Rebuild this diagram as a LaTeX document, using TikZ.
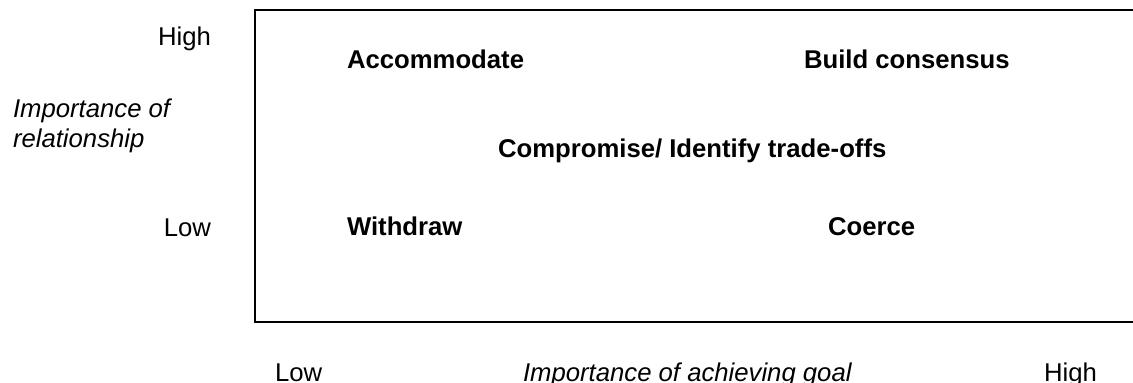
\documentclass[tikz,border=0pt]{standalone}
\usepackage{fontspec}
\setmainfont{Liberation Sans}
\tikzset{
  lbl/.style={inner sep=0pt, outer sep=0pt, font=\fontsize{25.7pt}{30pt}\selectfont},
  bold/.style={lbl, font=\fontsize{25.7pt}{30pt}\selectfont\bfseries},
  ital/.style={lbl, font=\fontsize{25.7pt}{30pt}\selectfont\itshape},
  frame/.style={draw=black, line width=2pt}
}
\begin{document}
\begin{tikzpicture}[x=1pt,y=-1pt]
\useasboundingbox (0,0) rectangle (1133,383);
\clip (0,0) rectangle (1133,383);
% frame (right side lies outside the picture)
\draw[frame] (1160,10) -- (255,10) -- (255,322) -- (1160,322);
% vertical axis
\node[lbl, anchor=base east] (yhigh) at (211,45) {High};
\node[ital, anchor=base west, align=left] (ylabel) at (13,117) {Importance of};
\node[ital, anchor=base west] (ylabel2) at (13,147) {relationship};
\node[lbl, anchor=base east] (ylow) at (211,236) {Low};
% quadrant texts
\node[bold, anchor=base west] (acc) at (347,68) {Accommodate};
\node[bold, anchor=base west] (build) at (804,68) {Build consensus};
\node[bold, anchor=base west] (comp) at (498,157) {Compromise/ Identify trade-offs};
\node[bold, anchor=base west] (with) at (347,235) {Withdraw};
\node[bold, anchor=base west] (coer) at (828,235) {Coerce};
% horizontal axis
\node[lbl, anchor=base west] (xlow) at (275,381) {Low};
\node[ital, anchor=base west] (xlabel) at (523,381) {Importance of achieving goal};
\node[lbl, anchor=base west] (xhigh) at (1044,381) {High};
\end{tikzpicture}
\end{document}
